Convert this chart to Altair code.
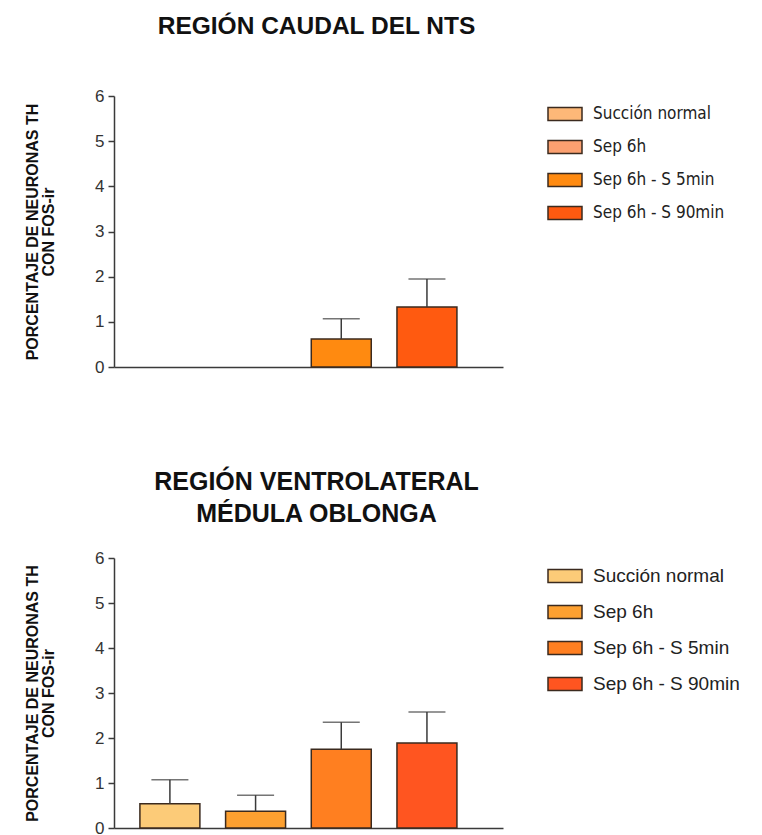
import altair as alt
import pandas as pd

categories = ["Succión normal", "Sep 6h", "Sep 6h - S 5min", "Sep 6h - S 90min"]
caudal_mean = [0.0, 0.0, 0.62, 1.33]
caudal_sem = [0.0, 0.0, 0.45, 0.62]
vlm_mean = [0.54, 0.37, 1.75, 1.89]
vlm_sem = [0.53, 0.36, 0.60, 0.69]
caudal_colors = ["#FDB878", "#FBA070", "#FF8A10", "#FF5A10"]
vlm_colors = ["#FCCB78", "#FDA030", "#FF7F20", "#FF5520"]
y_ticks = [0, 1, 2, 3, 4, 5, 6]
y_title = ["PORCENTAJE DE NEURONAS TH", "CON FOS-ir"]
title_top = "REGIÓN CAUDAL DEL NTS"
title_bottom = ["REGIÓN VENTROLATERAL", "MÉDULA OBLONGA"]

FONT = "Liberation Sans"
INK = "#3a3a3a"


def panel(mean, sem, colors, title, height, legend_font, legend_size, legend_row_pad, title_size, title_offset):
    df = pd.DataFrame({
        "cond": categories,
        "mean": mean,
        "upper": [m + s for m, s in zip(mean, sem)],
    })
    x = alt.X(
        "cond:N",
        sort=categories,
        scale=alt.Scale(domain=categories, paddingInner=0.3, paddingOuter=0.42, align=0.36),
        axis=alt.Axis(labels=False, ticks=False, title=None, domainColor=INK, domainWidth=1.5, grid=False),
    )
    y_axis = alt.Axis(
        values=y_ticks, title=y_title, grid=False,
        titleFont=FONT, titleFontSize=16, titleFontWeight="bold", titleColor="#111",
        titlePadding=38, titleLineHeight=16,
        labelFont=FONT, labelFontSize=17, labelColor="#333", labelPadding=4,
        tickSize=6, tickColor=INK, tickWidth=1.5, domainColor=INK, domainWidth=1.5,
    )
    y = alt.Y("mean:Q", scale=alt.Scale(domain=[0, 6], nice=False), axis=y_axis)
    base = alt.Chart(df).transform_filter("datum.mean > 0")
    bars = base.mark_bar(stroke="#3b2a1e", strokeWidth=1.5).encode(
        x=x, y=y,
        color=alt.Color(
            "cond:N",
            scale=alt.Scale(domain=categories, range=colors),
            legend=alt.Legend(
                title=None, orient="right", offset=44,
                symbolType="M-1,-0.38L1,-0.38L1,0.38L-1,0.38Z", symbolSize=1156,
                symbolStrokeColor="#3b2a1e", symbolStrokeWidth=1.5, symbolOpacity=1,
                labelFont=legend_font, labelFontSize=legend_size, labelColor="#222",
                labelOffset=10, rowPadding=legend_row_pad, labelLimit=300,
            ),
        ),
    )
    rules = base.mark_rule(color=INK, strokeWidth=1.5).encode(x=x, y="mean:Q", y2="upper:Q")
    caps = base.mark_tick(color=INK, thickness=1.5, size=37, orient="horizontal").encode(x=x, y="upper:Q")
    return alt.layer(bars, rules, caps).properties(
        width=389, height=height,
        title=alt.TitleParams(
            text=title, font=FONT, fontSize=title_size, fontWeight="bold", color="#111",
            anchor="middle", frame="group", offset=title_offset, dx=8, lineHeight=32,
        ),
    )


top = panel(caudal_mean, caudal_sem, caudal_colors, title_top, 271,
            "DejaVu Sans Condensed", 17, 5, 24.5, 48)
bottom = panel(vlm_mean, vlm_sem, vlm_colors, title_bottom, 270,
               FONT, 19, 8, 25, 22)

chart = alt.vconcat(top, bottom, spacing=93).resolve_scale(
    color="independent", x="independent", y="independent"
).resolve_legend(color="independent").properties(
    padding={"left": 16, "top": 5, "right": 5, "bottom": 5}
).configure(font=FONT).configure_view(stroke="transparent")

chart.save("out.html", embed_options={"renderer": "svg", "actions": False})
